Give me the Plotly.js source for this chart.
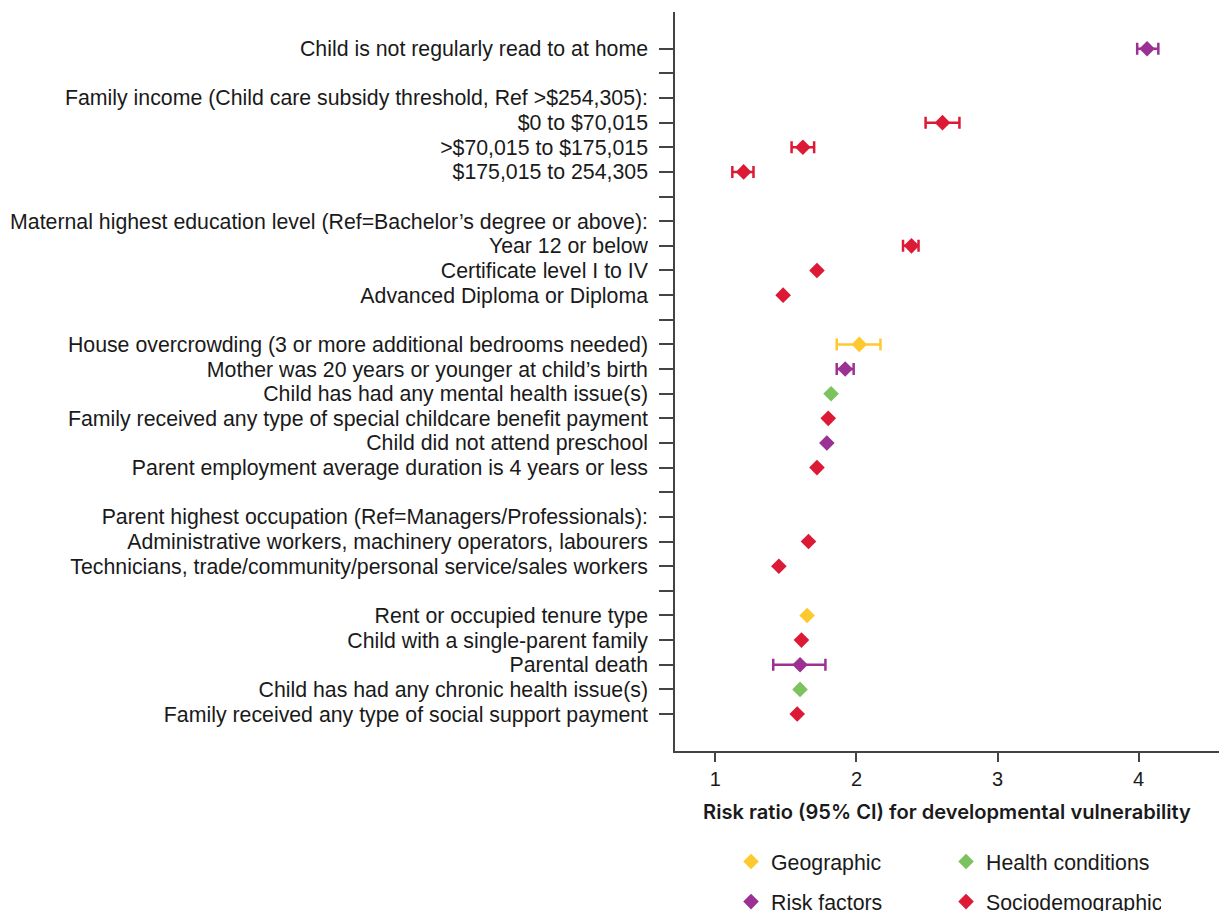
<!DOCTYPE html>
<html>
<head>
<meta charset="utf-8">
<script src="https://cdn.plot.ly/plotly-3.0.1.min.js"></script>
<style>html,body{margin:0;padding:0;background:#fff}#chart{width:1219px;height:911px}</style>
</head>
<body>
<div id="chart"></div>
<script>
// Row labels (top to bottom); '' = spacer row
var rowLabels = [
  "Child is not regularly read to at home",
  "",
  "Family income (Child care subsidy threshold, Ref >$254,305):",
  "$0 to $70,015",
  ">$70,015 to $175,015",
  "$175,015 to 254,305",
  "",
  "Maternal highest education level (Ref=Bachelor\u2019s degree or above):",
  "Year 12 or below",
  "Certificate level I to IV",
  "Advanced Diploma or Diploma",
  "",
  "House overcrowding (3 or more additional bedrooms needed)",
  "Mother was 20 years or younger at child\u2019s birth",
  "Child has had any mental health issue(s)",
  "Family received any type of special childcare benefit payment",
  "Child did not attend preschool",
  "Parent employment average duration is 4 years or less",
  "",
  "Parent highest occupation (Ref=Managers/Professionals):",
  "Administrative workers, machinery operators, labourers",
  "Technicians, trade/community/personal service/sales workers",
  "",
  "Rent or occupied tenure type",
  "Child with a single-parent family",
  "Parental death",
  "Child has had any chronic health issue(s)",
  "Family received any type of social support payment"
];
// Estimates: risk ratio, lower CI, upper CI (null = CI hidden behind marker), group
var riskRatio = [4.06, null, null, 2.61, 1.62, 1.20, null, null, 2.39, 1.72, 1.48, null, 2.02, 1.92, 1.82, 1.80, 1.79, 1.72, null, null, 1.66, 1.45, null, 1.65, 1.61, 1.60, 1.60, 1.58];
var ciLower   = [3.99, null, null, 2.49, 1.54, 1.12, null, null, 2.33, null, null, null, 1.86, 1.86, null, null, null, null, null, null, null, null, null, null, null, 1.41, null, null];
var ciUpper   = [4.14, null, null, 2.73, 1.70, 1.27, null, null, 2.44, null, null, null, 2.17, 1.98, null, null, null, null, null, null, null, null, null, null, null, 1.78, null, null];
var rowGroup  = ["Risk factors", null, null, "Sociodemographic", "Sociodemographic", "Sociodemographic", null, null,
  "Sociodemographic", "Sociodemographic", "Sociodemographic", null,
  "Geographic", "Risk factors", "Health conditions", "Sociodemographic", "Risk factors", "Sociodemographic", null, null,
  "Sociodemographic", "Sociodemographic", null,
  "Geographic", "Sociodemographic", "Risk factors", "Health conditions", "Sociodemographic"];
var groups = ["Geographic", "Health conditions", "Risk factors", "Sociodemographic"];
var groupColors = ["#fec92f", "#7cc35f", "#9b3193", "#dc1a36"];
var xTicks = [1, 2, 3, 4];

var FONT = "Liberation Sans, Arial, Helvetica, sans-serif";
var FS = 21.3;
var traces = groups.map(function (g, gi) {
  var x = [], y = [], ep = [], em = [];
  for (var i = 0; i < rowLabels.length; i++) {
    if (rowGroup[i] !== g) continue;
    x.push(riskRatio[i]); y.push(i);
    if (ciLower[i] === null) { ep.push(NaN); em.push(NaN); }
    else { ep.push(ciUpper[i] - riskRatio[i]); em.push(riskRatio[i] - ciLower[i]); }
  }
  return {
    type: "scatter", mode: "markers", name: g, x: x, y: y,
    legend: gi < 2 ? "legend" : "legend2",
    marker: {symbol: "diamond", size: 12, color: groupColors[gi], line: {width: 0}},
    error_x: {type: "data", symmetric: false, array: ep, arrayminus: em,
      color: groupColors[gi], thickness: 2.5, width: 6},
    cliponaxis: false, hoverinfo: "x+y"
  };
});

var tickIdx = rowLabels.map(function (_, i) { return i; });
var legendBase = {orientation: "h", x: 0.103, xanchor: "left", yanchor: "middle",
  entrywidth: 170, font: {family: FONT, size: FS, color: "#1a1a1a"}, bgcolor: "rgba(0,0,0,0)"};
var layout = {
  width: 1219, height: 911,
  margin: {l: 675, r: 0, t: 12, b: 160, autoexpand: false},
  paper_bgcolor: "#fff", plot_bgcolor: "#fff",
  font: {family: FONT, size: FS, color: "#1a1a1a"},
  showlegend: true,
  xaxis: {
    range: [0.7136, 4.57], tickvals: xTicks, ticktext: xTicks.map(String),
    showgrid: false, zeroline: false, showline: true, linecolor: "#444", linewidth: 1.5,
    ticks: "outside", ticklen: 9, tickwidth: 1.5, tickcolor: "#444",
    tickfont: {family: FONT, size: 20, color: "#1a1a1a"},
    title: {text: "Risk ratio (95% CI) for developmental vulnerability", standoff: 16,
      font: {family: "Inter, Liberation Sans, sans-serif", size: 20.1, color: "#1a1a1a", weight: 600}}
  },
  yaxis: {
    range: [28.5, -1.49], tickvals: tickIdx, ticktext: rowLabels,
    showgrid: false, zeroline: false, showline: true, linecolor: "#444", linewidth: 1.5,
    ticks: "outside", ticklen: 14, tickwidth: 1.5, tickcolor: "#444",
    ticklabelstandoff: 7,
    tickfont: {family: FONT, size: FS, color: "#1a1a1a"}
  },
  legend: Object.assign({}, legendBase, {y: -0.1498}),
  legend2: Object.assign({}, legendBase, {y: -0.204})
};

Plotly.newPlot("chart", traces, layout, {displayModeBar: false, responsive: false});
</script>
</body>
</html>
